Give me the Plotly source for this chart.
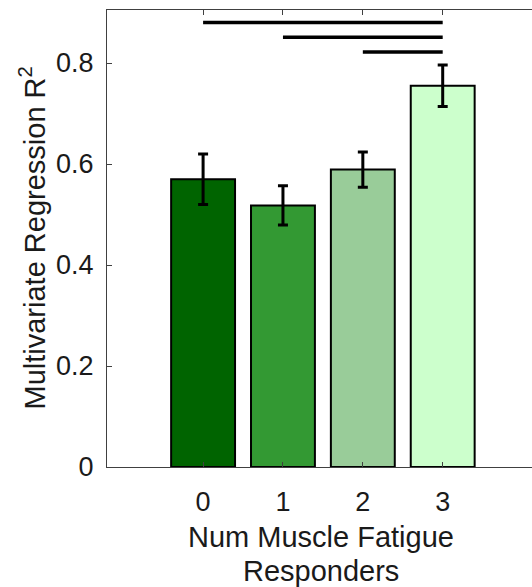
import plotly.graph_objects as go

categories = [0, 1, 2, 3]
r2_values = [0.570, 0.518, 0.589, 0.755]
r2_errors = [0.050, 0.039, 0.035, 0.041]
bar_colors = ["#006400", "#339933", "#99cc99", "#ccffcc"]

sig_starts = [0, 1, 2]
sig_ends = [3, 3, 3]
sig_levels = [0.880, 0.851, 0.822]

y_ticks = [0, 0.2, 0.4, 0.6, 0.8]
y_tick_labels = ["0", "0.2", "0.4", "0.6", "0.8"]

x_title_lines = ["Num Muscle Fatigue", "Responders"]
y_title = "Multivariate Regression R<sup>2</sup>"

fig = go.Figure()
fig.add_trace(go.Bar(
    x=categories, y=r2_values, width=0.8,
    marker=dict(color=bar_colors, line=dict(color="black", width=2)),
    error_y=dict(type="data", array=r2_errors, visible=True,
                 color="black", thickness=3, width=5),
    showlegend=False,
))
for s, e, lvl in zip(sig_starts, sig_ends, sig_levels):
    fig.add_trace(go.Scatter(
        x=[s, e], y=[lvl, lvl], mode="lines",
        line=dict(color="black", width=3.5), showlegend=False,
        hoverinfo="skip",
    ))

font_family = "Liberation Sans, Arial, sans-serif"
fig.update_layout(
    width=532, height=587,
    margin=dict(l=107, r=0, t=10, b=120),
    plot_bgcolor="white", paper_bgcolor="white",
    font=dict(family=font_family, size=27, color="#1a1a1a"),
)
fig.update_xaxes(
    range=[-1.203, 4.118], tickvals=categories, ticktext=[str(c) for c in categories],
    ticks="inside", ticklen=5, tickcolor="#404040",
    showline=True, linecolor="#404040", linewidth=1, mirror="ticks",
    showgrid=False, zeroline=False, automargin=False,
    tickfont=dict(size=27), ticklabelstandoff=11,
)
fig.update_yaxes(
    range=[0, 0.905], tickvals=y_ticks, ticktext=y_tick_labels,
    ticks="inside", ticklen=5, tickcolor="#404040",
    showline=True, linecolor="#404040", linewidth=1,
    showgrid=False, zeroline=False, automargin=False,
    tickfont=dict(size=27), ticklabelstandoff=7,
)
plot_top, plot_bottom, plot_left, plot_w = 10, 467, 107, 425
def py(ypx):
    return (plot_bottom - ypx) / (plot_bottom - plot_top)

fig.add_annotation(text=x_title_lines[0], xref="paper", yref="paper",
                   x=(321 - plot_left) / plot_w, y=py(537), xanchor="center", yanchor="middle",
                   showarrow=False, font=dict(size=29))
fig.add_annotation(text=x_title_lines[1], xref="paper", yref="paper",
                   x=(321 - plot_left) / plot_w, y=py(571), xanchor="center", yanchor="middle",
                   showarrow=False, font=dict(size=29))
fig.add_annotation(text=y_title, xref="paper", yref="paper",
                   x=(32 - plot_left) / plot_w, y=0.5, xanchor="center", yanchor="middle",
                   textangle=-90, showarrow=False, font=dict(size=29))
fig.write_html("out.html", config={"displayModeBar": False},
               post_script="document.body.style.margin='0px';document.body.style.overflow='hidden';")
